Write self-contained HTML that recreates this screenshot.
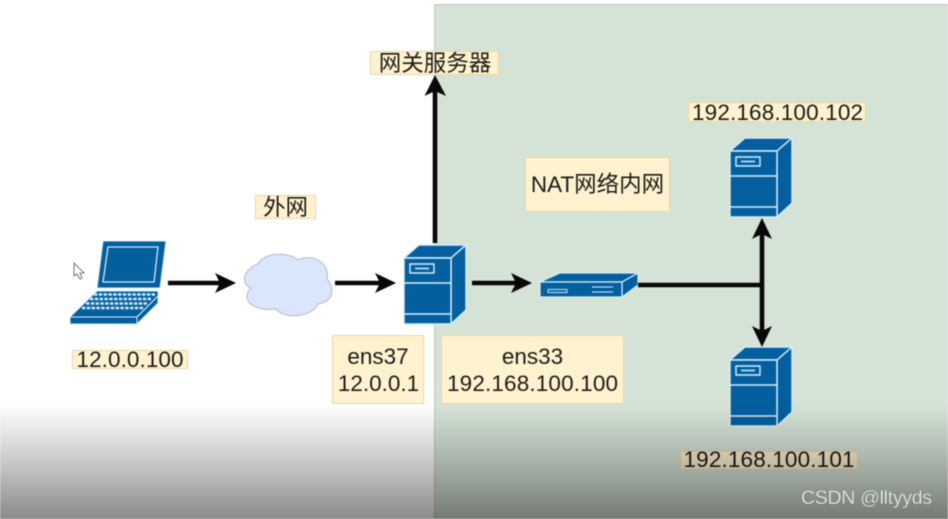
<!DOCTYPE html>
<html><head><meta charset="utf-8">
<style>
html,body{margin:0;padding:0;background:#fff;width:948px;height:519px;overflow:hidden}
svg{display:block;filter:blur(0.45px)}
text{font-family:"Liberation Sans","Noto Sans CJK SC",sans-serif;fill:#1c1a18;text-anchor:middle}
</style></head><body>
<svg width="948" height="519" viewBox="0 0 948 519" xmlns="http://www.w3.org/2000/svg">
<defs>
<linearGradient id="fade" x1="0" y1="0" x2="0" y2="1">
<stop offset="0" stop-color="#000" stop-opacity="0"/>
<stop offset="0.4" stop-color="#000" stop-opacity="0.17"/>
<stop offset="0.7" stop-color="#000" stop-opacity="0.31"/>
<stop offset="1" stop-color="#000" stop-opacity="0.46"/>
</linearGradient>
<g id="server" stroke="#d8eefa" stroke-width="1.4" stroke-linejoin="round">
<polygon points="0,13 15,0 62,0 47,13" fill="#045f9f"/>
<polygon points="47,13 62,0 62,65 47,79" fill="#045f9f"/>
<rect x="0" y="13" width="47" height="66" fill="#045f9f"/>
<line x1="0" y1="38" x2="47" y2="38"/>
<line x1="0" y1="69" x2="47" y2="69"/>
<rect x="6" y="19" width="24" height="9" fill="none"/>
<line x1="11" y1="23.5" x2="25" y2="23.5" stroke="#9fd0ee" stroke-width="2"/>
</g>
</defs>
<rect width="948" height="519" fill="#fff"/>
<rect x="434.5" y="4.5" width="520" height="520" fill="#d5e3d6" stroke="#bfcdb9"/>

<!-- laptop -->
<g stroke="#d8eefa" stroke-width="1" stroke-linejoin="round">
<polygon points="103,241 166,241 160,288 97,288" fill="#045f9f"/>
<polygon points="108,247 158,247 154,282 103,282" fill="#045f9f" stroke="#cfe8f7" stroke-width="1.3"/>
<polygon points="97,291 158,291 158,296 137,317 70,317" fill="#045f9f"/>
<polygon points="70,317 137,317 137,324 70,324" fill="#045f9f"/>
<polygon points="137,317 158,296 158,303 137,324" fill="#045f9f"/>
</g>
<g stroke="#d5ebf8" stroke-width="2.4" stroke-dasharray="3.400 1.400" fill="none">
<line x1="94" y1="294.500" x2="155" y2="294.500"/>
<line x1="90" y1="299" x2="151" y2="299"/>
<line x1="86" y1="303.500" x2="147" y2="303.500"/>
<line x1="82" y1="308" x2="143" y2="308"/>
</g>

<!-- cursor -->
<polygon points="74,263 74,276 77,274 80,279 82,278 80,273 84,273" fill="#fff" stroke="#555" stroke-width="0.8"/>

<!-- cloud -->
<path d="M251,288 C241,284 242,270 258,264 C263,254 285,250 298,260 C312,253 330,262 327,279 C335,288 334,302 318,304 C312,317 285,320 276,309 C258,312 238,302 251,288 Z" fill="#dae6fb" stroke="#b9b5d3" stroke-width="1"/>

<!-- servers / switch -->
<use href="#server" x="404" y="245"/>
<use href="#server" x="730" y="138"/>
<use href="#server" x="730" y="347"/>
<g stroke="#d8eefa" stroke-width="1.2" stroke-linejoin="round">
<polygon points="560,273 638,273 622,282 540,282" fill="#045f9f"/>
<polygon points="622,282 638,273 638,285 622,297" fill="#045f9f"/>
<rect x="540" y="282" width="82" height="15" fill="#045f9f"/>
<rect x="548" y="289.5" width="19" height="3" fill="none" stroke="#a8d2ec"/>
<line x1="592" y1="287" x2="613" y2="287" stroke-width="1"/>
<line x1="592" y1="292" x2="613" y2="292" stroke-width="1"/>
</g>

<!-- connectors -->
<g stroke="#0a0708" stroke-width="4.6" fill="none">
<line x1="168" y1="283" x2="222" y2="283"/>
<line x1="335" y1="283" x2="382" y2="283"/>
<line x1="472" y1="283" x2="518" y2="283"/>
<line x1="435" y1="243" x2="435" y2="90"/>
<line x1="638" y1="285" x2="762" y2="285"/>
<line x1="762" y1="232" x2="762" y2="334"/>
</g>
<g fill="#0a0708">
<polygon points="236,283 215,273 220,283 215,293"/>
<polygon points="396,283 375,273 380,283 375,293"/>
<polygon points="532,283 511,273 516,283 511,293"/>
<polygon points="435,75 424.500,96 435,91 446,96"/>
<polygon points="762,218 752,239 762,234 772,239"/>
<polygon points="762,347 752,326 762,331 772,326"/>
</g>

<!-- labels -->
<g fill="#fff2cf" stroke="#ecd5a4" stroke-width="1">
<rect x="72.500" y="350.500" width="115" height="18"/>
<rect x="255.500" y="195.500" width="60" height="23"/>
<rect x="370.500" y="51.500" width="128" height="23"/>
<rect x="525.500" y="157.500" width="144" height="54"/>
<rect x="332.500" y="335.500" width="91" height="68"/>
<rect x="441.500" y="335.500" width="182" height="68"/>
<rect x="688.500" y="102.500" width="177" height="19"/>
<rect x="680.500" y="451.500" width="177" height="18"/>
</g>
<g font-size="22.500">
<text x="130" y="367" textLength="107">12.0.0.100</text>
<text x="285.500" y="215">外网</text>
<text x="435" y="71" font-size="22.500">网关服务器</text>
<text x="597.500" y="192">NAT网络内网</text>
<text x="378" y="364">ens37</text>
<text x="378.500" y="391">12.0.0.1</text>
<text x="532.500" y="364">ens33</text>
<text x="532.500" y="391" textLength="171">192.168.100.100</text>
<text x="777.500" y="120" textLength="171">192.168.100.102</text>
<text x="769" y="467" textLength="171">192.168.100.101</text>
</g>

<!-- bottom fade -->
<rect x="0" y="405" width="948" height="114" fill="url(#fade)"/>

<!-- watermark -->
<text x="866.500" y="504" font-size="19.500" style="fill:#ecefec" textLength="131" stroke="#555" stroke-width="0.2">CSDN @lltyyds</text>
</svg>
</body></html>
